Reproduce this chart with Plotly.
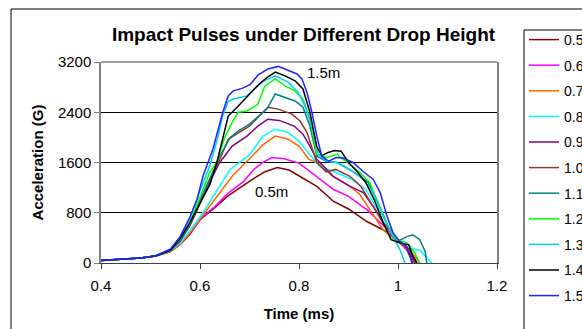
import plotly.graph_objects as go

# Drop heights (legend labels) and colours
heights = ["0.5m", "0.6m", "0.7m", "0.8m", "0.9m", "1.0m", "1.1m", "1.2m", "1.3m", "1.4m", "1.5m"]
colors = ["#800000", "#FF00FF", "#FF6600", "#00FFFF", "#800080", "#993333",
          "#008080", "#00FF00", "#00CCFF", "#000000", "#2222FF"]

# Time (ms) / acceleration (G)
t_05 = [0.40, 0.44, 0.48, 0.51, 0.54, 0.56, 0.58, 0.60, 0.63, 0.655, 0.68, 0.70, 0.73, 0.756, 0.78, 0.80, 0.836, 0.87, 0.90, 0.937, 0.97, 0.998, 1.018, 1.03]
g_05 = [40, 55, 80, 110, 180, 290, 460, 690, 880, 1060, 1200, 1300, 1450, 1520, 1480, 1390, 1220, 980, 860, 660, 530, 370, 210, 0]

t_06 = [0.40, 0.44, 0.48, 0.51, 0.54, 0.56, 0.58, 0.606, 0.63, 0.655, 0.687, 0.71, 0.727, 0.745, 0.77, 0.80, 0.836, 0.87, 0.90, 0.937, 0.97, 0.998, 1.024, 1.038]
g_06 = [40, 55, 80, 110, 180, 300, 480, 740, 900, 1100, 1290, 1500, 1600, 1680, 1660, 1590, 1380, 1170, 1060, 850, 600, 370, 160, 0]

t_07 = [0.40, 0.44, 0.48, 0.51, 0.54, 0.56, 0.58, 0.60, 0.63, 0.667, 0.70, 0.727, 0.752, 0.778, 0.80, 0.82, 0.836, 0.869, 0.903, 0.923, 0.943, 0.97, 0.998, 1.024, 1.044]
g_07 = [40, 55, 80, 110, 180, 300, 480, 700, 1020, 1400, 1660, 1880, 2020, 1970, 1860, 1650, 1600, 1380, 1220, 1090, 850, 530, 340, 210, 0]

t_08 = [0.40, 0.44, 0.48, 0.51, 0.54, 0.56, 0.58, 0.606, 0.63, 0.661, 0.70, 0.727, 0.752, 0.778, 0.80, 0.816, 0.842, 0.875, 0.907, 0.935, 0.955, 0.975, 0.998, 1.02, 1.045, 1.068]
g_08 = [40, 55, 80, 110, 190, 320, 520, 800, 1100, 1490, 1720, 2020, 2130, 2080, 1940, 1780, 1540, 1440, 1330, 1170, 900, 580, 370, 250, 200, 0]

t_09 = [0.40, 0.44, 0.48, 0.51, 0.54, 0.56, 0.58, 0.60, 0.62, 0.64, 0.665, 0.695, 0.717, 0.737, 0.76, 0.79, 0.808, 0.822, 0.836, 0.869, 0.903, 0.93, 0.95, 0.97, 0.998, 1.024, 1.038]
g_09 = [40, 55, 80, 110, 200, 350, 600, 950, 1300, 1600, 1860, 2020, 2180, 2290, 2270, 2180, 2050, 1860, 1650, 1380, 1220, 1120, 900, 640, 370, 210, 0]

t_10 = [0.40, 0.44, 0.48, 0.51, 0.54, 0.56, 0.58, 0.60, 0.62, 0.64, 0.657, 0.675, 0.70, 0.717, 0.737, 0.758, 0.786, 0.802, 0.816, 0.836, 0.855, 0.874, 0.903, 0.925, 0.945, 0.97, 0.998, 1.018, 1.03, 1.034]
g_10 = [40, 55, 80, 110, 200, 360, 620, 980, 1330, 1650, 1970, 2060, 2180, 2320, 2480, 2450, 2370, 2260, 2080, 1600, 1450, 1490, 1380, 1220, 960, 640, 370, 260, 50, 0]

t_11 = [0.40, 0.44, 0.48, 0.51, 0.54, 0.56, 0.58, 0.60, 0.62, 0.64, 0.661, 0.677, 0.70, 0.717, 0.735, 0.752, 0.772, 0.792, 0.808, 0.822, 0.836, 0.855, 0.877, 0.913, 0.94, 0.96, 0.98, 0.998, 1.018, 1.03, 1.044, 1.055, 1.058]
g_11 = [40, 55, 80, 110, 200, 360, 620, 1000, 1350, 1700, 2000, 2100, 2210, 2320, 2450, 2690, 2640, 2580, 2480, 2180, 1700, 1620, 1600, 1440, 1280, 960, 580, 340, 420, 450, 370, 180, 0]

t_12 = [0.40, 0.44, 0.48, 0.51, 0.54, 0.56, 0.58, 0.60, 0.62, 0.634, 0.65, 0.665, 0.677, 0.695, 0.717, 0.731, 0.752, 0.772, 0.792, 0.808, 0.822, 0.836, 0.856, 0.877, 0.897, 0.923, 0.943, 0.96, 0.976, 0.998, 1.018, 1.034, 1.044]
g_12 = [40, 55, 80, 110, 200, 380, 660, 1050, 1450, 1600, 2000, 2240, 2400, 2420, 2530, 2820, 2930, 2820, 2740, 2610, 2290, 1730, 1680, 1730, 1600, 1440, 1280, 960, 640, 370, 320, 160, 0]

t_13 = [0.40, 0.44, 0.48, 0.51, 0.54, 0.56, 0.58, 0.60, 0.62, 0.636, 0.646, 0.657, 0.667, 0.695, 0.725, 0.752, 0.778, 0.798, 0.812, 0.826, 0.84, 0.857, 0.877, 0.903, 0.93, 0.95, 0.97, 0.99, 1.004, 1.014]
g_13 = [40, 55, 80, 115, 210, 420, 720, 1150, 1550, 2000, 2350, 2570, 2610, 2660, 2880, 2980, 2880, 2720, 2500, 2180, 1700, 1620, 1600, 1490, 1330, 1120, 740, 420, 210, 0]

t_14 = [0.40, 0.44, 0.48, 0.51, 0.54, 0.56, 0.58, 0.60, 0.62, 0.634, 0.646, 0.657, 0.675, 0.695, 0.717, 0.735, 0.752, 0.772, 0.792, 0.808, 0.822, 0.836, 0.846, 0.859, 0.872, 0.885, 0.90, 0.917, 0.935, 0.952, 0.97, 0.986, 1.004, 1.022, 1.03, 1.038]
g_14 = [40, 55, 80, 110, 200, 390, 650, 950, 1250, 1600, 2000, 2340, 2480, 2640, 2830, 2950, 3040, 2980, 2900, 2770, 2400, 1850, 1710, 1760, 1790, 1780, 1600, 1460, 1280, 1010, 640, 370, 320, 290, 100, 0]

t_15 = [0.40, 0.44, 0.48, 0.51, 0.54, 0.56, 0.58, 0.594, 0.606, 0.626, 0.646, 0.657, 0.667, 0.685, 0.701, 0.717, 0.737, 0.758, 0.778, 0.796, 0.806, 0.816, 0.826, 0.836, 0.846, 0.86, 0.875, 0.889, 0.909, 0.929, 0.95, 0.964, 0.978, 0.99, 1.004, 1.014, 1.024, 1.028]
g_15 = [45, 60, 80, 115, 220, 420, 740, 1010, 1380, 1810, 2400, 2660, 2740, 2780, 2840, 2990, 3090, 3130, 3060, 3010, 2930, 2720, 2400, 2020, 1700, 1620, 1680, 1670, 1600, 1460, 1330, 1120, 740, 480, 340, 290, 130, 0]

times = [t_05, t_06, t_07, t_08, t_09, t_10, t_11, t_12, t_13, t_14, t_15]
accels = [g_05, g_06, g_07, g_08, g_09, g_10, g_11, g_12, g_13, g_14, g_15]

x_ticks = [0.4, 0.6, 0.8, 1.0, 1.2]
x_tick_text = ["0.4", "0.6", "0.8", "1", "1.2"]
y_ticks = [0, 800, 1600, 2400, 3200]

FONT = "Liberation Sans, Arial, sans-serif"

# plot-area pixel geometry (582x329 figure)
PL, PR, PT, PB = 101, 497, 62, 263
PW, PH = PR - PL, PB - PT


def px_x(p):
    return (p - PL) / PW


def px_y(p):
    return (PB - p) / PH


fig = go.Figure()
for name, col, tt, gg in zip(heights, colors, times, accels):
    fig.add_trace(go.Scatter(x=tt, y=gg, mode="lines", name=name, legendgroup=name,
                             line=dict(color=col, width=1.5)))

fig.update_layout(
    width=582, height=329,
    margin=dict(l=PL, r=582 - PR, t=PT, b=329 - PB, autoexpand=False),
    paper_bgcolor="white", plot_bgcolor="white",
    font=dict(family=FONT, size=15, color="black"),
    title=dict(text="<b>Impact Pulses under Different Drop Height</b>",
               x=303.5 / 582, xanchor="center", y=1 - 34 / 329, yanchor="middle",
               font=dict(size=19, family=FONT, color="black")),
    showlegend=True,
    legend=dict(x=px_x(524), xanchor="left", y=px_y(24), yanchor="top",
                borderwidth=0, bgcolor="rgba(0,0,0,0)", maxheight=320,
                font=dict(size=14, family=FONT), tracegroupgap=4.4,
                traceorder="grouped", itemwidth=30),
    xaxis=dict(range=[0.4, 1.2], tickvals=x_ticks, ticktext=x_tick_text,
               showgrid=False, zeroline=False, showline=True, linecolor="#404040",
               linewidth=1, ticks="outside", ticklen=5, tickcolor="#404040",
               ticklabelstandoff=4, tickfont=dict(size=15),
               title=dict(text="<b>Time (ms)</b>", font=dict(size=15, family=FONT), standoff=15)),
    yaxis=dict(range=[0, 3200], tickvals=y_ticks, showgrid=True, gridcolor="black",
               gridwidth=1, zeroline=False, showline=True, linecolor="#808080",
               linewidth=1.5, mirror=True, ticks="outside", ticklen=5, tickcolor="#808080",
               tickfont=dict(size=15),
               title=dict(text="<b>Acceleration (G)</b>", font=dict(size=15, family=FONT), standoff=11)),
    shapes=[
        dict(type="line", xref="paper", yref="paper", x0=0, x1=1, y0=1, y1=1,
             line=dict(color="#808080", width=1.5)),
        dict(type="rect", xref="paper", yref="paper", x0=px_x(11), x1=2.0,
             y0=-1.0, y1=px_y(9), line=dict(color="black", width=1)),
        dict(type="rect", xref="paper", yref="paper", x0=px_x(524), x1=2.0,
             y0=-1.0, y1=px_y(30), line=dict(color="black", width=1)),
    ],
    annotations=[
        dict(text="1.5m", x=0.850, y=3040, xref="x", yref="y", showarrow=False,
             font=dict(size=15, family=FONT)),
        dict(text="0.5m", x=0.745, y=1136, xref="x", yref="y", showarrow=False,
             font=dict(size=15, family=FONT)),
    ],
)

fig.write_html("out.html")
